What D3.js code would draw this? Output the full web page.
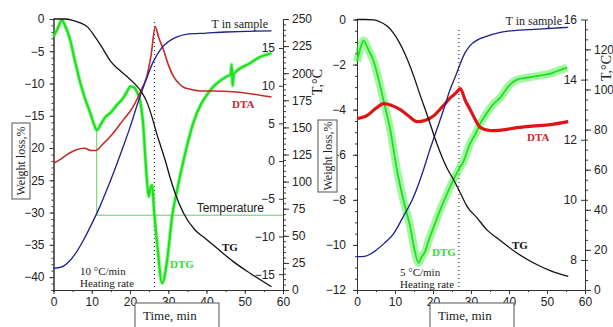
<!DOCTYPE html>
<html>
<head>
<meta charset="utf-8">
<script src="https://cdn.jsdelivr.net/npm/d3@7/dist/d3.min.js"></script>
<style>
body { margin: 0; background: #fff; }
svg { display: block; }
.tick text { font-family: "Liberation Sans", Arial, sans-serif; font-size: 12px; fill: #222; }
.domain, .tick line { stroke: #333; }
.serif { font-family: "Liberation Serif", "Times New Roman", serif; }
</style>
</head>
<body>
<div id="chart"></div>
<script>
// ---- data: [time min, value] ----
// left panel, 10 C/min
var tgLeft = [[0,0],[3,0],[5,-0.2],[7,-0.6],[9,-1.3],[11,-2.9],[13,-4.7],[15,-6.6],[17,-7.8],[19,-8.8],[21,-9.9],[23,-11.3],[24.5,-13],[25.6,-14.9],[27,-17.8],[28.3,-20.2],[29.2,-21.9],[30.5,-24.6],[31.8,-27],[34,-30.1],[37,-32.7],[39.7,-34],[42.7,-35.5],[47,-37.6],[51.4,-39.4],[57,-41.5]];
var tempLeft = [[0,20],[2,21],[4,26],[6,35],[8,47],[10,61],[12,76],[14,93],[16,111],[18,130],[20,150],[22,172],[24,192],[26,210],[28,222],[30,229],[32,233],[35,236],[40,237],[45,238],[57,239]];
var dtaLeft = [[0,-0.3],[2,0.3],[4,1.0],[6,1.5],[8,1.7],[10,1.4],[11,1.4],[13,2.3],[15.6,3.7],[18,5.3],[20.8,7.2],[23,9.5],[24.3,11.1],[25.5,14],[26.6,17.8],[27.5,16.4],[28.8,14.7],[30,12.8],[31.4,11.2],[33,10.2],[34,9.8],[36,9.5],[38.2,9.3],[42,9.3],[46.9,9.2],[52,8.9],[57,8.5]];
var dtgLeft = [[0,16.5],[1,17.5],[2.2,18.7],[3,18],[4.4,16],[5.5,13.5],[7,10.4],[8.3,8.2],[9.6,6.4],[10.5,5],[11.3,4.1],[12.5,5],[13.5,5.8],[14.9,6.4],[16.5,7.4],[18.4,8.5],[19.3,9.3],[20.1,9.9],[21,9.8],[21.8,9.2],[22.6,8.1],[23.5,4.5],[24,0.5],[24.5,-3],[24.9,-4.7],[25.4,-3.5],[25.8,-3.2],[26.2,-6],[27.1,-10.9],[28.4,-16.2],[29.7,-13.2],[31,-7.4],[32.3,-3.9],[34,0.1],[36.5,5],[41,9.4],[45.2,11.2],[46.3,11.5],[46.6,12.8],[46.8,10],[47.2,11.6],[51.4,13],[54,13.8],[57,14.3]];

// right panel, 5 C/min
var tgRight = [[0,0],[2,0],[4.4,-0.02],[6,-0.1],[8,-0.3],[9.6,-0.6],[12,-1.3],[14.9,-2.5],[16.5,-3.3],[18.4,-4.2],[21,-5.5],[23.7,-6.6],[25.4,-7.1],[27.2,-7.7],[29,-8.3],[31.6,-8.8],[34,-9.3],[37.7,-9.8],[42,-10.35],[46.5,-10.8],[51,-11.15],[55.6,-11.4]];
var tempRight = [[0,16.6],[2,16.8],[4.4,19],[7,23],[9.6,28],[12,36],[14.9,46.5],[17.5,60],[19,69],[21,80],[22.8,90],[24.5,100],[26,107],[27.2,113],[28.5,118.5],[29.8,122],[31.5,124.5],[33.3,126],[37.7,128.5],[42,129.5],[46.5,130],[51,130.5],[55.6,131]];
var dtaRight = [[0,12.7],[2.6,12.8],[5,13.05],[7,13.2],[9,13.15],[11.4,13.0],[13.5,12.8],[15.8,12.6],[18,12.65],[20.2,12.8],[22.5,13.1],[24.6,13.4],[26,13.55],[27.2,13.7],[28.5,13.3],[29.8,13.0],[31,12.7],[32.5,12.4],[35.1,12.3],[38,12.32],[42.1,12.4],[46,12.45],[50.9,12.5],[55.6,12.6]];
var dtgRight = [[0,14.6],[0.8,15.0],[1.7,15.3],[3,15.0],[4.4,14.6],[5.7,14.0],[7,13.3],[8.8,12.3],[10.5,11.0],[12.2,10.0],[14,9.1],[15.2,8.3],[16.2,7.9],[17,8.1],[18,8.3],[19,8.7],[20.2,9.1],[22,9.7],[23.7,10.2],[25.5,10.7],[27.2,11.1],[28.1,11.3],[29.5,11.8],[31.2,12.2],[32.7,12.6],[34.2,12.9],[36,13.2],[37.7,13.4],[40,13.8],[42.1,14.0],[44,14.05],[46.5,14.1],[48.7,14.15],[50.9,14.2],[53,14.3],[55.3,14.4]];

// tick labels
var timeTicks = [0, 10, 20, 30, 40, 50, 60];
var weightTicksLeft = [0, -5, -10, -15, -20, -25, -30, -35, -40];
var weightTicksRight = [0, -2, -4, -6, -8, -10, -12];
var tempTicksLeft = [0, 25, 50, 75, 100, 125, 150, 175, 200, 225, 250];
var tempTicksRight = [0, 20, 40, 60, 80, 100, 120];
var dtTicksLeft = [15, 10, 5, 0, -5, -10, -15];
var dtTicksRight = [16, 14, 12, 10, 8];

// marker values
var peakTimeLeft = 26.4, peakTimeRight = 26.8;
var markTimeLeft = 11.3, markTempLeft = 69;

var svg = d3.select("#chart").append("svg")
    .attr("width", 613)
    .attr("height", 327);

function drawPanel(p) {
    var g = svg.append("g");

    var x = d3.scaleLinear().domain([0, 60]).range([p.x0, p.x1]);
    var yW = d3.scaleLinear().domain(p.wDomain).range([290, p.top]);
    var yT = d3.scaleLinear().domain(p.tDomain).range([290, p.top]);
    var yD = d3.scaleLinear().domain(p.dDomain).range([290, p.top]);

    // minor ticks first
    g.append("g").attr("transform", "translate(0,290)")
        .call(d3.axisBottom(x).tickValues(d3.range(0, 61, 5)).tickSize(2).tickFormat(""));
    g.append("g").attr("transform", "translate(" + p.x0 + ",0)")
        .call(d3.axisLeft(yW).tickValues(d3.range(p.wDomain[0], 0.001, p.wMinor)).tickSize(2).tickFormat(""));
    g.append("g").attr("transform", "translate(" + p.x1 + ",0)")
        .call(d3.axisRight(yT).tickValues(d3.range(0, p.tDomain[1], p.tMinor)).tickSize(3).tickFormat(""));

    g.append("g").attr("transform", "translate(0,290)")
        .call(d3.axisBottom(x).tickValues(timeTicks).tickSize(4).tickSizeOuter(0).tickPadding(3));
    g.append("g").attr("transform", "translate(" + p.x0 + ",0)")
        .call(d3.axisLeft(yW).tickValues(p.wTicks).tickSize(4).tickSizeOuter(0).tickPadding(p.wPad));
    g.append("g").attr("transform", "translate(" + p.x1 + ",0)")
        .call(d3.axisRight(yT).tickValues(p.tTicks).tickSize(6).tickSizeOuter(0).tickPadding(3));
    // inner scale for DTA / DTG on the inside of the right axis
    var inner = g.append("g").attr("transform", "translate(" + p.x1 + ",0)")
        .call(d3.axisLeft(yD).tickValues(p.dTicks).tickSize(4).tickSizeOuter(0).tickPadding(4));
    inner.select(".domain").remove();

    // guide lines
    g.append("line")
        .attr("x1", x(p.peakTime)).attr("x2", x(p.peakTime))
        .attr("y1", p.dotTop).attr("y2", 290)
        .attr("stroke", "#333").attr("stroke-width", 1.2)
        .attr("stroke-dasharray", "1,3");

    if (p.mark) {
        g.append("line")
            .attr("x1", x(markTimeLeft)).attr("x2", x(markTimeLeft))
            .attr("y1", yD(4.1)).attr("y2", yT(markTempLeft))
            .attr("stroke", "#66cc66").attr("stroke-width", 1);
        g.append("line")
            .attr("x1", x(markTimeLeft)).attr("x2", x(60))
            .attr("y1", yT(markTempLeft)).attr("y2", yT(markTempLeft))
            .attr("stroke", "#66cc66").attr("stroke-width", 1);
        g.append("text")
            .attr("x", 264).attr("y", yT(markTempLeft) - 3)
            .attr("text-anchor", "end")
            .style("font-family", "Liberation Sans, Arial, sans-serif")
            .style("font-size", "12px").attr("fill", "#222")
            .text("Temperature");
    }

    var line = function (sy) {
        return d3.line().x(function (d) { return x(d[0]); })
            .y(function (d) { return sy(d[1]); })
            .curve(d3.curveMonotoneX);
    };

    // DTG band + core
    g.append("path").datum(p.dtg)
        .attr("fill", "none").attr("stroke", "#33ee33")
        .attr("stroke-opacity", 0.45).attr("stroke-width", p.dtgBand)
        .attr("stroke-linejoin", "round")
        .attr("d", line(yD));
    g.append("path").datum(p.dtg)
        .attr("fill", "none").attr("stroke", "#1fe01f")
        .attr("stroke-width", p.dtgWidth)
        .attr("stroke-linejoin", "round")
        .attr("d", line(yD));

    g.append("path").datum(p.dta)
        .attr("fill", "none").attr("stroke", p.dtaColor)
        .attr("stroke-width", p.dtaWidth)
        .attr("d", line(yD));

    g.append("path").datum(p.temp)
        .attr("fill", "none").attr("stroke", "#1e1e8c")
        .attr("stroke-width", 1.3)
        .attr("d", line(yT));

    g.append("path").datum(p.tg)
        .attr("fill", "none").attr("stroke", "#111")
        .attr("stroke-width", 1.3)
        .attr("d", line(yW));

    // curve labels
    p.labels.forEach(function (l) {
        g.append("text")
            .attr("class", "serif")
            .attr("x", l.x).attr("y", l.y)
            .attr("text-anchor", l.anchor || "start")
            .attr("fill", l.color)
            .style("font-size", l.size + "px")
            .style("font-weight", l.bold ? 700 : 400)
            .text(l.text);
    });

    // weight loss box
    g.append("rect")
        .attr("x", p.wBox[0]).attr("y", p.wBox[1])
        .attr("width", p.wBox[2]).attr("height", p.wBox[3])
        .attr("fill", "#fff").attr("stroke", "#555");
    g.append("text")
        .attr("class", "serif")
        .attr("transform", "translate(" + (p.wBox[0] + p.wBox[2] / 2 + 4) + "," + (p.wBox[1] + p.wBox[3] / 2) + ") rotate(-90)")
        .attr("text-anchor", "middle")
        .style("font-size", "12px").attr("fill", "#222")
        .text("Weight loss,%");

    // time box
    g.append("rect")
        .attr("x", p.tBox[0]).attr("y", 303)
        .attr("width", p.tBox[1]).attr("height", 30)
        .attr("fill", "#fff").attr("stroke", "#555");
    g.append("text")
        .attr("class", "serif")
        .attr("x", p.tBox[0] + 8).attr("y", 320)
        .style("font-size", "13px").attr("fill", "#222")
        .text("Time, min");

    // T,C axis title
    g.append("text")
        .attr("class", "serif")
        .attr("transform", "translate(" + p.tTitle[0] + "," + p.tTitle[1] + ") rotate(-90)")
        .attr("text-anchor", "middle")
        .style("font-size", "14px").attr("fill", "#222")
        .text("T,°C");
}

drawPanel({
    x0: 53.5, x1: 283, top: 19,
    wDomain: [-42, 0], wTicks: weightTicksLeft, wMinor: 1, wPad: 5,
    tDomain: [0, 250], tTicks: tempTicksLeft, tMinor: 5,
    dDomain: [-17.1, 18.85], dTicks: dtTicksLeft,
    tg: tgLeft, temp: tempLeft, dta: dtaLeft, dtg: dtgLeft,
    dtgWidth: 2.2, dtgBand: 4, dtaColor: "#c42a2a", dtaWidth: 1.6,
    peakTime: peakTimeLeft, dotTop: 22, mark: true,
    wBox: [12, 123, 18, 76], tBox: [135, 84], tTitle: [322, 82],
    labels: [
        {x: 268, y: 28, text: "T in sample", color: "#222", size: 12, anchor: "end"},
        {x: 232, y: 108, text: "DTA", color: "#c42a2a", size: 11, bold: true},
        {x: 222, y: 251, text: "TG", color: "#111", size: 11, bold: true},
        {x: 170, y: 268, text: "DTG", color: "#33dd33", size: 11, bold: true},
        {x: 80, y: 275, text: "10 °C/min", color: "#222", size: 11},
        {x: 80, y: 287, text: "Heating rate", color: "#222", size: 11}
    ]
});

drawPanel({
    x0: 357, x1: 585, top: 19.5,
    wDomain: [-12, 0], wTicks: weightTicksRight, wMinor: 0.5, wPad: 7,
    tDomain: [0, 134.9], tTicks: tempTicksRight, tMinor: 5,
    dDomain: [7.0, 16], dTicks: dtTicksRight,
    tg: tgRight, temp: tempRight, dta: dtaRight, dtg: dtgRight,
    dtgWidth: 1.8, dtgBand: 8, dtaColor: "#e01414", dtaWidth: 3.2,
    peakTime: peakTimeRight, dotTop: 30, mark: false,
    wBox: [318, 120, 19, 72], tBox: [430, 84], tTitle: [611, 68],
    labels: [
        {x: 562, y: 25, text: "T in sample", color: "#222", size: 12, anchor: "end"},
        {x: 527, y: 141, text: "DTA", color: "#c42a2a", size: 11, bold: true},
        {x: 512, y: 249, text: "TG", color: "#111", size: 11, bold: true},
        {x: 432, y: 256, text: "DTG", color: "#33dd33", size: 11, bold: true},
        {x: 400, y: 276, text: "5 °C/min", color: "#222", size: 11},
        {x: 400, y: 288, text: "Heating rate", color: "#222", size: 11}
    ]
});
</script>
</body>
</html>
